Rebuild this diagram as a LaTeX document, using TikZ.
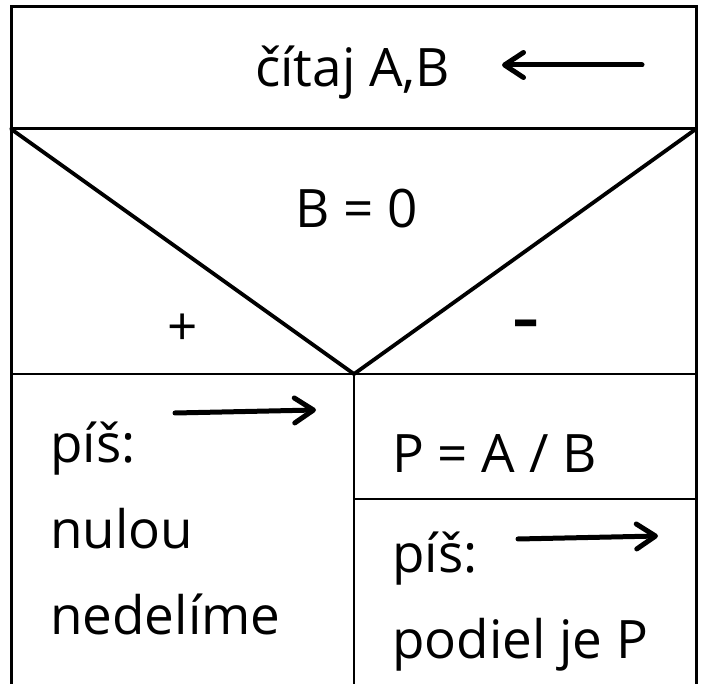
\documentclass[tikz,border=0pt]{standalone}
\usepackage{fontspec}
\setmainfont{Open Sans}
\usetikzlibrary{arrows.meta}
\begin{document}
\begin{tikzpicture}[x=1pt,y=-1pt,
  lbl/.style={inner sep=0pt,font=\fontsize{53}{60}\selectfont},
  frame/.style={line width=3pt},
  divider/.style={line width=2.5pt},
  diag/.style={line width=3.8pt,line cap=round},
  flow/.style={line width=5pt,line cap=round,-{Straight Barb[length=19pt,width=25pt,round]}}]
\useasboundingbox (0,0) rectangle (705,684);
\clip (0,0) rectangle (705,684);
% frame and dividers
\draw[frame] (11,7) rectangle (696,700);
\coordinate (tl) at (11,129);
\coordinate (tr) at (696,129);
\coordinate (apex) at (354,374);
\coordinate (ml) at (11,374);
\coordinate (mr) at (696,374);
\coordinate (bot) at (354,700);
\coordinate (sl) at (354,499);
\coordinate (sr) at (696,499);
\draw[frame] (tl) -- (tr);
\draw[diag] (tl) -- (apex) -- (tr);
\draw[divider] (ml) -- (mr);
\draw[divider] (apex) -- (bot);
\draw[divider] (sl) -- (sr);
% texts
\node[lbl,anchor=base west] (read) at (255,87) {čítaj A,B};
\node[lbl,anchor=base] (cond) at (356.5,228) {B = 0};
\node[lbl] (plus) at (183,330) {+};
\node[lbl,anchor=base] (minus) at (526,348) {\scalebox{0.95}[1.7]{–}};
\node[lbl,anchor=base west] (w1) at (50,463) {píš:};
\node[lbl,anchor=base west] (w2) at (50,549) {nulou};
\node[lbl,anchor=base west] (w3) at (50,634) {nedelíme};
\node[lbl,anchor=base west] (calc) at (392,473) {P = A / B};
\node[lbl,anchor=base west] (r1) at (392,573) {píš:};
\node[lbl,anchor=base west] (r2) at (392,659) {podiel je P};
% arrows
\coordinate (a1s) at (642,65);
\coordinate (a1e) at (502,65);
\coordinate (a2s) at (175,413);
\coordinate (a2e) at (316,410);
\coordinate (a3s) at (518,539);
\coordinate (a3e) at (658,536);
\draw[flow] (a1s) -- (a1e);
\draw[flow] (a2s) -- (a2e);
\draw[flow] (a3s) -- (a3e);
\end{tikzpicture}
\end{document}
